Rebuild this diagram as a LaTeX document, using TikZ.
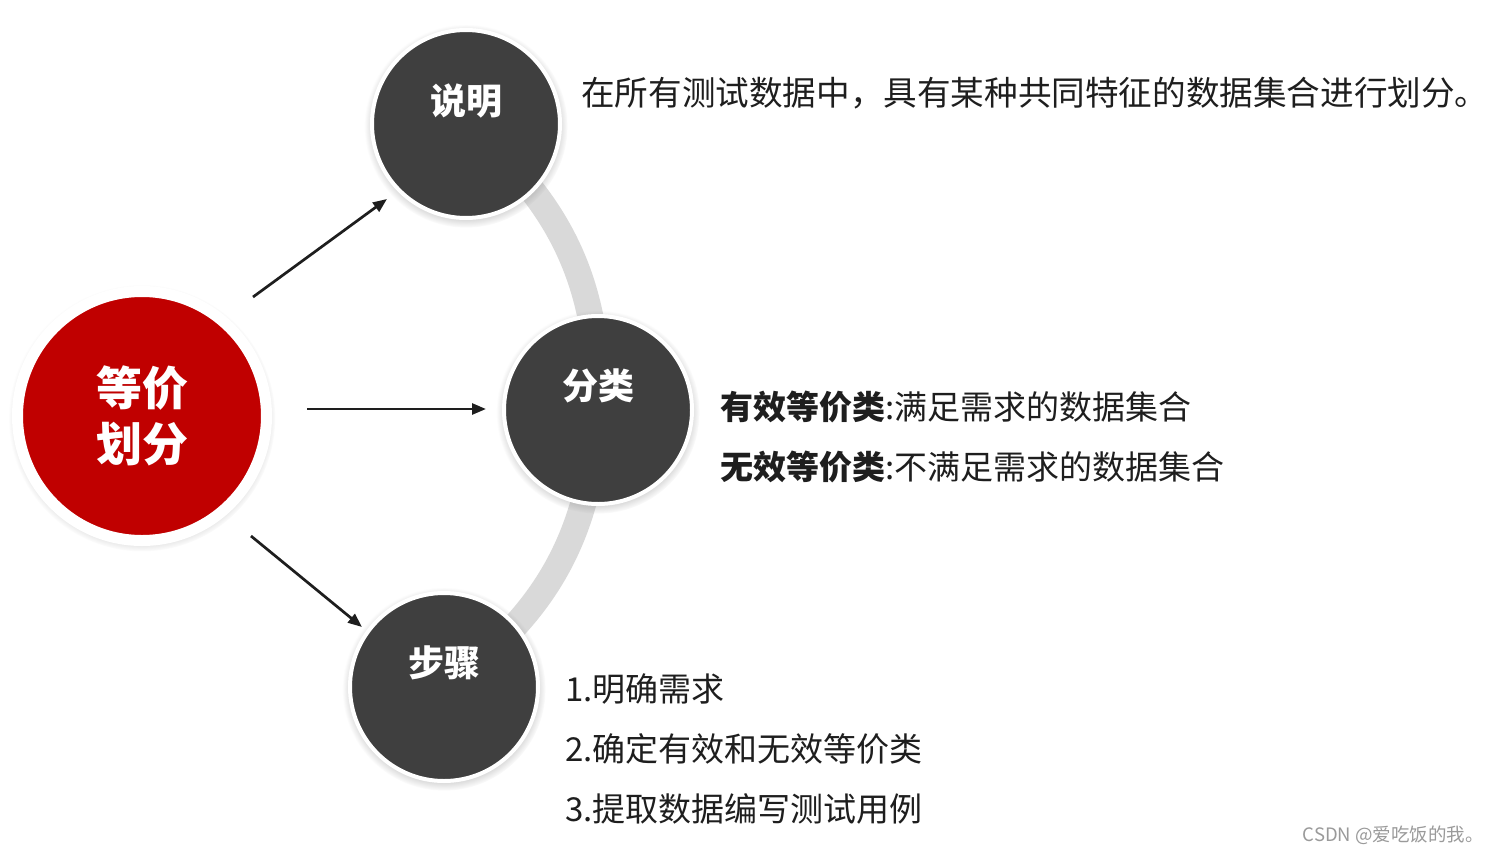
\documentclass[tikz,border=0pt]{standalone}
\usepackage{fontspec}
\setmainfont{Noto Sans CJK SC}
\usetikzlibrary{shadows,arrows.meta}
\definecolor{redc}{HTML}{C00000}
\definecolor{darkc}{HTML}{3F3F3F}
\definecolor{bandc}{HTML}{D9D9D9}
\definecolor{txtc}{HTML}{1E1E1E}
\definecolor{wmc}{HTML}{9A9A9A}
\tikzset{
  redcircle/.style={circle, fill=redc, draw=white, line width=11pt, minimum size=249pt, inner sep=0pt,
    circular drop shadow={shadow xshift=0pt, shadow yshift=-2pt, shadow scale=1.07, opacity=0.5}},
  darkcircle/.style={circle, fill=darkc, draw=white, line width=4pt, minimum size=188pt, inner sep=0pt,
    circular drop shadow={shadow xshift=0pt, shadow yshift=-2pt, shadow scale=1.08, opacity=0.5}},
  redlabel/.style={text=white, font=\fontsize{46}{56}\selectfont\bfseries, align=center, inner sep=0pt},
  darklabel/.style={text=white, font=\fontsize{36}{42}\selectfont\bfseries, inner sep=0pt},
  desc/.style={text=txtc, font=\fontsize{33}{40}\selectfont, anchor=west, inner sep=0pt},
  band/.style={draw=bandc, line width=26pt},
  arr/.style={draw=txtc, line width=2.7pt, -{Triangle[length=14pt, width=11pt]}},
}
\begin{document}
\begin{tikzpicture}[x=1pt, y=-1pt]
\useasboundingbox[fill=white] (0,0) rectangle (1494,854);
% coordinates for circles
\coordinate (csm) at (466,124);
\coordinate (cfl) at (598,410);
\coordinate (cbz) at (444,687);
% gray band
\draw[band] (csm) to[bend left=26] (cfl) to[bend left=26] (cbz);
% circles
\node[redcircle] (main) at (142,416) {};
\node[redlabel] (mainlabel) at (main.center) {等价\\划分};
\node[darkcircle] (sm) at (csm) {};
\node[darkcircle] (fl) at (cfl) {};
\node[darkcircle] (bz) at (cbz) {};
\node[darklabel] (smlabel) at ([yshift=23pt]sm.center) {说明};
\node[darklabel] (fllabel) at ([yshift=24pt]fl.center) {分类};
\node[darklabel] (bzlabel) at ([yshift=24pt]bz.center) {步骤};
% arrows
\coordinate (a1s) at (253,297);
\coordinate (a1e) at (387,199);
\coordinate (a2s) at (307,409);
\coordinate (a2e) at (486,409);
\coordinate (a3s) at (251,536);
\coordinate (a3e) at (362,627);
\draw[arr] (a1s) -- (a1e);
\draw[arr] (a2s) -- (a2e);
\draw[arr] (a3s) -- (a3e);
% texts
\node[desc, font=\fontsize{33.6}{40}\selectfont] (t1) at (581,93) {在所有测试数据中，具有某种共同特征的数据集合进行划分。};
\node[desc] (t2) at (720,407) {\bfseries 有效等价类\mdseries:满足需求的数据集合};
\node[desc] (t3) at (720,467) {\bfseries 无效等价类\mdseries:不满足需求的数据集合};
\node[desc] (s1) at (565,689) {1.明确需求};
\node[desc] (s2) at (565,749) {2.确定有效和无效等价类};
\node[desc] (s3) at (565,809) {3.提取数据编写测试用例};
\node[text=wmc, font=\fontsize{18.5}{22}\selectfont, anchor=east, inner sep=0pt] (wm) at (1484,835) {CSDN @爱吃饭的我。};
\end{tikzpicture}
\end{document}
